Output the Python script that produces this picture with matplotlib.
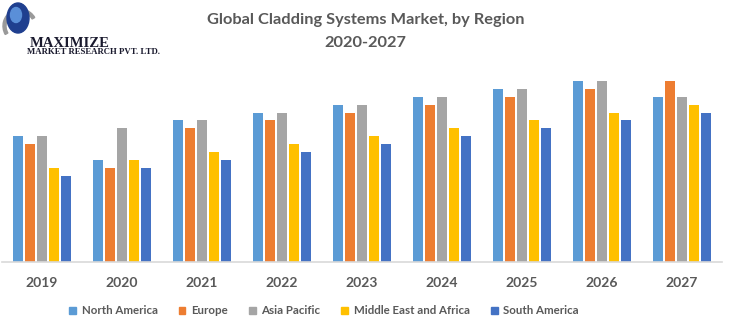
import matplotlib
matplotlib.use("Agg")
import matplotlib.pyplot as plt
from matplotlib.patches import Ellipse, Patch, Wedge
import numpy as np

years = ["2019", "2020", "2021", "2022", "2023", "2024", "2025", "2026", "2027"]
series_names = ["North America", "Europe", "Asia Pacific", "Middle East and Africa", "South America"]
north_america = [12.6, 10.2, 14.2, 14.9, 15.7, 16.5, 17.3, 18.1, 16.5]
europe = [11.8, 9.4, 13.4, 14.2, 14.9, 15.7, 16.5, 17.3, 18.1]
asia_pacific = [12.6, 13.4, 14.2, 14.9, 15.7, 16.5, 17.3, 18.1, 16.5]
middle_east_africa = [9.4, 10.2, 11.0, 11.8, 12.6, 13.4, 14.2, 14.9, 15.7]
south_america = [8.6, 9.4, 10.2, 11.0, 11.8, 12.6, 13.4, 14.2, 14.9]
colors = ["#5B9BD5", "#ED7D31", "#A5A5A5", "#FFC000", "#4472C4"]

series = [north_america, europe, asia_pacific, middle_east_africa, south_america]

W, H = 731, 321
fig = plt.figure(figsize=(W / 100, H / 100), dpi=100)
ax = fig.add_axes([2 / W, (H - 262) / H, 720 / W, (262 - 65) / H])

x = np.arange(len(years))
step = 0.15
bw = 0.125
for i, (vals, c) in enumerate(zip(series, colors)):
    ax.bar(x + (i - 2) * step, vals, width=bw, color=c, label=series_names[i])

ax.set_xlim(-0.5, len(years) - 0.5)
ax.set_ylim(0, 19.7)
ax.set_yticks([])
ax.set_xticks(x)
ax.set_xticklabels(years, fontsize=10, fontweight="bold", color="#595959", family="Lato")
ax.tick_params(axis="x", length=0, pad=11)
for s in ["top", "right", "left"]:
    ax.spines[s].set_visible(False)
ax.spines["bottom"].set_color("#D9D9D9")
ax.spines["bottom"].set_linewidth(1.2)

fig.text(0.5, 1 - 20 / H, "Global Cladding Systems Market, by Region", ha="center", va="center",
         fontsize=11.8, fontweight="bold", color="#595959", family="Lato")
fig.text(0.5, 1 - 43 / H, "2020-2027", ha="center", va="center",
         fontsize=11.8, fontweight="bold", color="#595959", family="Lato")

handles = [Patch(color=c) for c in colors]
leg = fig.legend(handles, series_names, loc="center", bbox_to_anchor=(324 / W, 1 - 311 / H),
                 ncol=5, frameon=False, handlelength=0.6, handleheight=0.6, handletextpad=0.5,
                 columnspacing=1.8, prop={"family": "Lato", "weight": "bold", "size": 8.3})
for t in leg.get_texts():
    t.set_color("#595959")

# Logo
lax = fig.add_axes([0, 1 - 60 / H, 150 / W, 60 / H])
lax.set_xlim(0, 150)
lax.set_ylim(60, 0)
lax.axis("off")
lax.add_patch(Wedge((20, 26), 17, 150, 330, width=3, color="#9A9A9A"))
lax.add_patch(Ellipse((18, 18), 22, 30, color="#1F3F8F"))
lax.add_patch(Ellipse((16, 15), 11, 15, color="#5A8FD8"))
lax.text(30, 47, "MAXIMIZE", fontsize=10.5, family="Liberation Serif", fontweight="bold",
         color="#1A1A2E", va="baseline", ha="left")
lax.text(27, 54.5, "MARKET RESEARCH PVT. LTD.", fontsize=6.3, family="Liberation Serif",
         fontweight="bold", color="#1A1A2E", va="baseline", ha="left")

fig.savefig("out.png", dpi=100)
